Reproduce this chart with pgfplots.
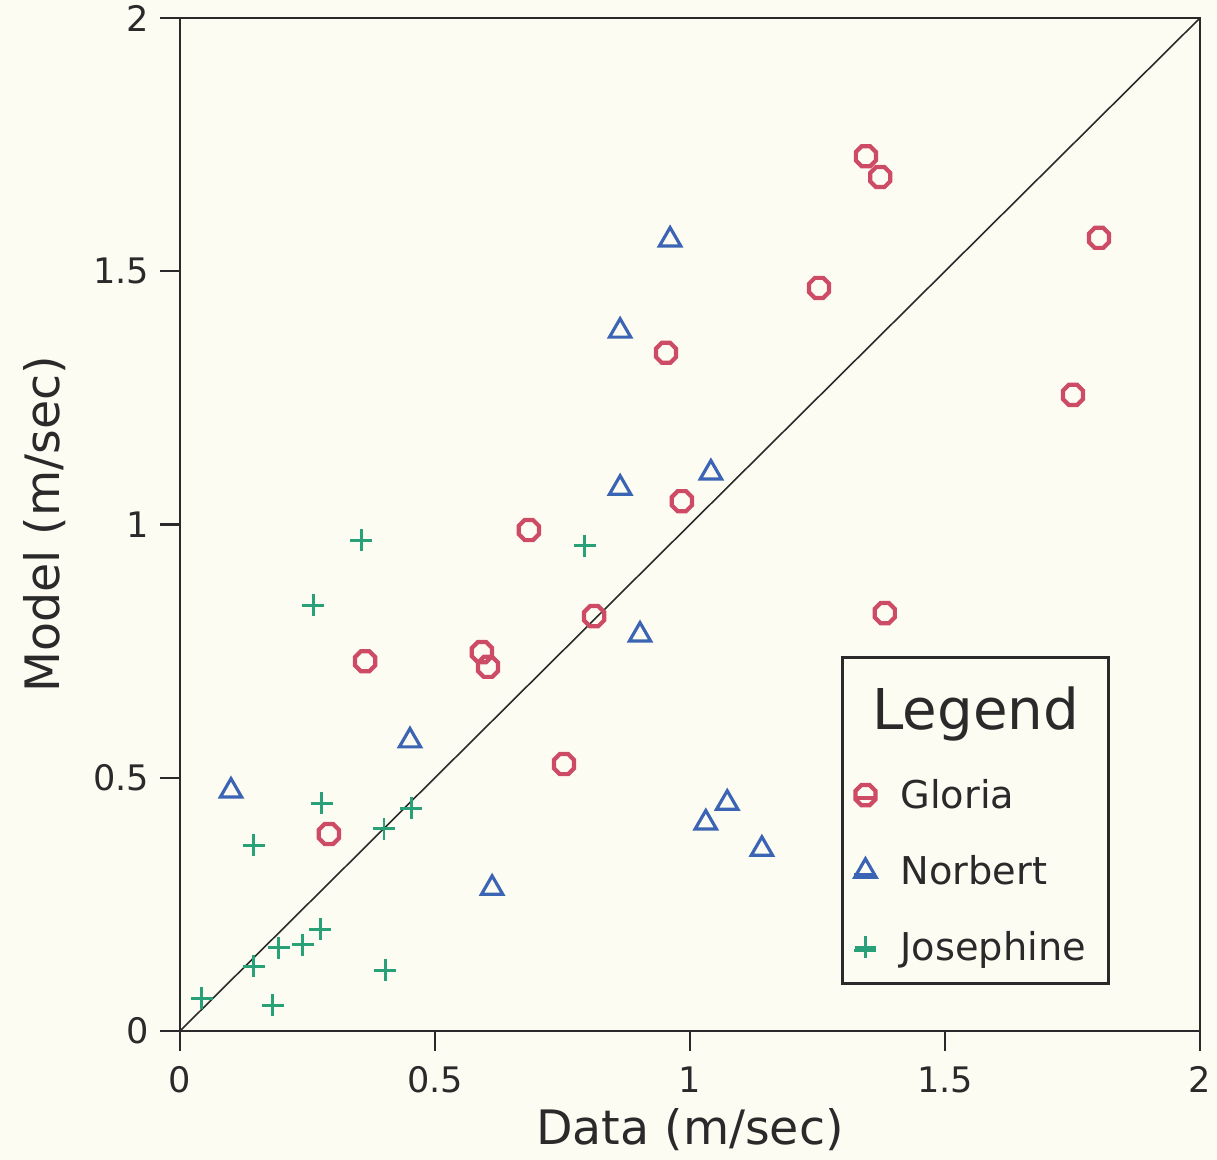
\documentclass[border=0pt]{standalone}
\usepackage{pgfplots}
\pgfplotsset{compat=1.18}
\usepackage{fontspec}
\setmainfont{DejaVu Sans}
\definecolor{bg}{HTML}{FDFCF3}
\definecolor{txt}{HTML}{2A2A2A}
\definecolor{cglo}{HTML}{CD4B64}
\definecolor{cnor}{HTML}{3C64B4}
\definecolor{cjos}{HTML}{28A078}
\pgfdeclareplotmark{octagon}{%
  \pgfpathmoveto{\pgfpointpolar{22.5}{\pgfplotmarksize}}%
  \pgfpathlineto{\pgfpointpolar{67.5}{\pgfplotmarksize}}%
  \pgfpathlineto{\pgfpointpolar{112.5}{\pgfplotmarksize}}%
  \pgfpathlineto{\pgfpointpolar{157.5}{\pgfplotmarksize}}%
  \pgfpathlineto{\pgfpointpolar{202.5}{\pgfplotmarksize}}%
  \pgfpathlineto{\pgfpointpolar{247.5}{\pgfplotmarksize}}%
  \pgfpathlineto{\pgfpointpolar{292.5}{\pgfplotmarksize}}%
  \pgfpathlineto{\pgfpointpolar{337.5}{\pgfplotmarksize}}%
  \pgfpathclose\pgfusepathqstroke}
\begin{document}
\begin{tikzpicture}
\fill[bg] (-18mm,-12.9mm) rectangle (103.7mm,103.1mm);
\begin{axis}[
  scale only axis, width=102mm, height=101.3mm,
  xmin=0, xmax=2, ymin=0, ymax=2,
  xtick={0,0.5,1,1.5,2}, ytick={0,0.5,1,1.5,2},
  xticklabels={0,0.5,1,1.5,2}, yticklabels={0,0.5,1,1.5,2},
  xtick pos=bottom, ytick pos=left,
  tick align=outside, major tick length=2mm,
  tick style={line width=0.6pt, color=txt},
  axis line style={line width=0.7pt, color=txt},
  /pgf/number format/assume math mode=true,
  ticklabel style={font=\fontsize{10}{12}\selectfont, text=txt},
  yticklabel style={anchor=east, inner sep=0pt, xshift=-1mm},
  xticklabel style={anchor=north, inner sep=0pt, yshift=-1.5mm},
  xlabel={Data (m/sec)}, ylabel={Model (m/sec)},
  label style={font=\fontsize{13.5}{16}\selectfont, text=txt},
  xlabel style={at={(axis description cs:0.5,0)}, anchor=base, yshift=-11.4mm, inner sep=0pt},
  ylabel style={at={(axis description cs:0,0.5)}, anchor=base, yshift=12mm, inner sep=0pt},
  legend style={at={(axis cs:1.8235,0.0908)}, anchor=south east,
    draw=txt, line width=0.8pt, fill=bg, inner xsep=1mm, inner ysep=1.5mm,
    row sep=3.9mm, column sep=2.2mm,
    nodes={inner sep=0pt, text height=2.9mm, text depth=0.8mm, text=txt,
      font=\fontsize{10.9}{13}\selectfont}},
  legend cell align=left,
  legend image code/.code={\path (-1.1mm,0) -- (1.1mm,0);\draw[#1,mark repeat=1] plot coordinates {(0mm,0.3mm)};},
]
\addlegendimage{empty legend}
\addlegendentry[text height=5.7mm, text depth=1.1mm]{\hspace*{-2.8mm}\fontsize{16}{18}\selectfont Legend}
\addplot[only marks, mark=octagon, mark size=3.1pt, color=cglo, line width=1.2pt] coordinates {
(1.345,1.727) (1.373,1.686) (1.802,1.566) (1.253,1.467) (0.953,1.339)
(1.751,1.256) (0.984,1.046) (0.684,0.989) (0.812,0.819) (1.382,0.825)
(0.592,0.748) (0.604,0.719) (0.363,0.730) (0.753,0.527) (0.292,0.389)
};
\addlegendentry{Gloria}
\addplot[only marks, mark=triangle, mark size=3.5pt, color=cnor, line width=0.9pt] coordinates {
(0.961,1.562) (0.863,1.382) (0.863,1.072) (1.041,1.102) (0.902,0.782)
(0.451,0.573) (0.100,0.474) (0.612,0.282) (1.031,0.411) (1.073,0.450)
(1.141,0.359)
};
\addlegendentry{Norbert}
\addplot[only marks, mark=+, mark size=3.1pt, color=cjos, line width=0.85pt] coordinates {
(0.355,0.969) (0.794,0.958) (0.261,0.841) (0.278,0.450) (0.145,0.367)
(0.400,0.399) (0.453,0.440) (0.275,0.201) (0.241,0.170) (0.194,0.164)
(0.145,0.128) (0.402,0.120) (0.182,0.051) (0.043,0.065)
};
\addlegendentry{\makebox[19.8mm][l]{Josephine}}
\addplot[forget plot, color=txt, line width=0.45pt] coordinates {(0,0) (2,2)};
\end{axis}
\pgfresetboundingbox
\path[use as bounding box] (-18mm,-12.9mm) rectangle (103.7mm,103.1mm);
\end{tikzpicture}
\end{document}
